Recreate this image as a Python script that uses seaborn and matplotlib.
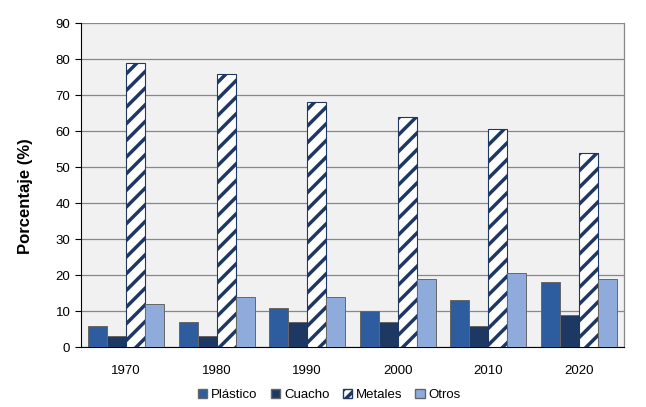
import matplotlib
matplotlib.use("Agg")
import matplotlib.pyplot as plt
import seaborn as sns
import pandas as pd
from matplotlib.patches import Patch

# Values
years = ["1970", "1980", "1990", "2000", "2010", "2020"]
plastico = [6, 7, 11, 10, 13, 18]
cuacho = [3, 3, 7, 7, 6, 9]
metales = [79, 76, 68, 64, 60.5, 54]
otros = [12, 14, 14, 19, 20.5, 19]
series = ["Plástico", "Cuacho", "Metales", "Otros"]
colors = ["#2d5d9f", "#1e3864", "#ffffff", "#8fabdb"]

sns.set_style("white")
plt.rcParams["font.family"] = ["Liberation Sans", "DejaVu Sans"]
plt.rcParams["hatch.linewidth"] = 2.5
plt.rcParams["text.color"] = "black"
plt.rcParams["axes.labelcolor"] = "black"
plt.rcParams["xtick.color"] = "black"
plt.rcParams["ytick.color"] = "black"

df = pd.DataFrame({
    "year": years * 4,
    "serie": [s for s in series for _ in years],
    "valor": plastico + cuacho + metales + otros,
})

fig, ax = plt.subplots(figsize=(6.46, 4.07), dpi=100)
ax.set_facecolor("#f1f1f1")

sns.barplot(data=df, x="year", y="valor", hue="serie", hue_order=series,
            palette=colors, saturation=1, width=0.84, edgecolor="#666666",
            linewidth=0.7, ax=ax, legend=False, zorder=3)

# hatch the Metales bars
for i, p in enumerate(ax.patches):
    if len(years) * 2 <= i < len(years) * 3:
        p.set_hatch("//")
        p.set_edgecolor("#1e3864")
        p.set_linewidth(0.8)

ax.set_ylim(0, 90)
ax.set_yticks(range(0, 91, 10))
ax.set_xlim(-0.5, len(years) - 0.5)
ax.yaxis.grid(True, color="#888888", linewidth=0.9, zorder=0)
ax.set_axisbelow(True)

ax.spines["top"].set_visible(False)
ax.spines["left"].set_color("black")
ax.spines["bottom"].set_color("black")
ax.spines["right"].set_color("#888888")
ax.spines["right"].set_linewidth(0.9)

ax.set_xticks([x + 0.5 for x in range(-1, len(years))], minor=True)
ax.tick_params(axis="x", which="major", length=0, labelsize=9.5, pad=13)
ax.tick_params(axis="x", which="minor", length=4, color="black", direction="out")
ax.tick_params(axis="y", length=4, labelsize=9.5, left=True, direction="out")
ax.set_xlabel("")
ax.set_ylabel("Porcentaje (%)", fontsize=12, fontweight="bold")
ax.yaxis.set_label_coords(-0.088, 0.466)

handles = [Patch(facecolor=colors[0], edgecolor="#666666"),
           Patch(facecolor=colors[1], edgecolor="#666666"),
           Patch(facecolor="white", edgecolor="#1e3864", hatch="///"),
           Patch(facecolor=colors[3], edgecolor="#666666")]
fig.legend(handles, series, loc="lower center", ncol=4, frameon=False,
           fontsize=9.5, handlelength=0.7, handleheight=0.7, handletextpad=0.3,
           columnspacing=1.0, bbox_to_anchor=(0.51, -0.015))

fig.subplots_adjust(left=0.125, right=0.966, top=0.943, bottom=0.147)
fig.savefig("out.png", dpi=100)
